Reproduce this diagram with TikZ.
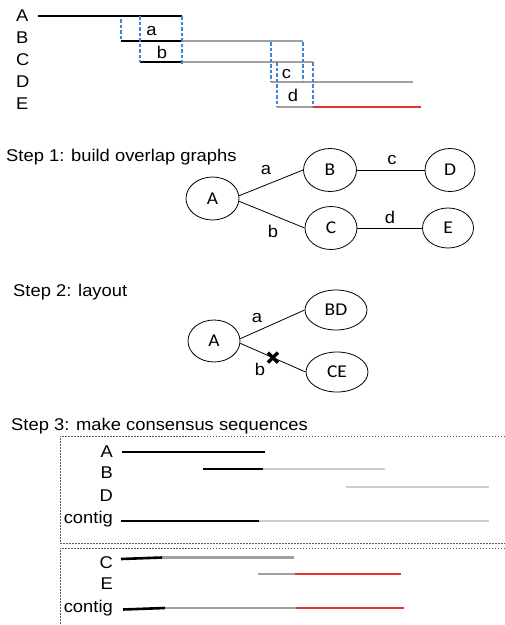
\documentclass[tikz,border=0pt]{standalone}
\usepackage{fontspec}
\setmainfont{Liberation Sans}[FakeStretch=1.08]
\newfontfamily\ellfont{Carlito}[FakeStretch=1.08]
\usetikzlibrary{shapes.geometric}
\definecolor{readgray}{HTML}{A0A0A0}
\definecolor{lightread}{HTML}{CECECE}
\definecolor{readred}{HTML}{E0352B}
\definecolor{ovblue}{HTML}{3F85D6}
\definecolor{boxline}{HTML}{4C5B7A}
\tikzset{
	lbl/.style={inner sep=0, font=\fontsize{17}{20}\selectfont},
	readk/.style={line width=2.6pt, black},
	readg/.style={line width=2.6pt, readgray},
	readl/.style={line width=2.6pt, lightread},
	readr/.style={line width=2.6pt, readred},
	ovl/.style={ovblue, line width=1.1pt, dash pattern=on 3.5pt off 2pt},
	readnode/.style={ellipse, draw, line width=0.8pt, inner sep=0, minimum width=53pt, minimum height=43pt, font=\ellfont\fontsize{18}{21}\selectfont},
	grp/.style={boxline, line width=0.9pt, dash pattern=on 1.5pt off 1.5pt},
}

\begin{document}
\begin{tikzpicture}[x=1pt, y=-1pt]
		%%%%% START %%%%%
		\useasboundingbox (0,0) rectangle (505,625);
		
		\node[lbl, anchor=base west] (rA) at (16,21) {A};
		\node[lbl, anchor=base west] (rB) at (16,43) {B};
		\node[lbl, anchor=base west] (rC) at (16,65) {C};
		\node[lbl, anchor=base west] (rD) at (16,87) {D};
		\node[lbl, anchor=base west] (rE) at (16,109) {E};
		
		\draw[readk] (38,16) -- (182,16);
		\draw[readk] (121,41) -- (182,41);
		\draw[readg] (182,41) -- (303,41);
		\draw[readk] (140,62) -- (182,62);
		\draw[readg] (182,62) -- (313,62);
		\draw[readg] (271,82) -- (413,82);
		\draw[readg] (277,107) -- (313,107);
		\draw[readr] (313,107) -- (421,107);
		
		\draw[ovl] (121,19) -- (121,41);
		\draw[ovl] (140,16) -- (140,62);
		\draw[ovl] (182,16) -- (182,64);
		\draw[ovl] (271,42) -- (271,82);
		\draw[ovl] (303,42) -- (303,82);
		\draw[ovl] (277,62) -- (277,107);
		\draw[ovl] (313,62) -- (313,107);
		
		\node[lbl, anchor=base] (oa) at (151.5,35) {a};
		\node[lbl, anchor=base] (ob) at (162,58) {b};
		\node[lbl, anchor=base] (oc) at (286.5,78) {c};
		\node[lbl, anchor=base] (od) at (293,101) {d};
		
		%%%%% STEP 1 %%%%%
		\node[lbl, anchor=base west] (step1) at (6,161) {Step 1: build overlap graphs};
		
		\node[readnode] (A1) at (212.5,198.5) {A};
		\node[readnode] (B1) at (330,170) {B};
		\node[readnode, minimum width=50pt] (D1) at (450,170) {D};
		\node[readnode, minimum width=52pt] (C1) at (331,228) {C};
		\node[readnode, minimum width=51pt, minimum height=40pt] (E1) at (448,228) {E};
		
		\draw[line width=0.8pt] (A1.6) -- (B1.west);
		\draw[line width=0.8pt] (A1.-6) -- (C1.west);
		\draw[line width=0.8pt] (B1.east) -- (D1.west);
		\draw[line width=0.8pt] (C1.east) -- (E1.west);
		
		\node[lbl, anchor=base] (ea1) at (266,174) {a};
		\node[lbl, anchor=base] (eb1) at (273,237) {b};
		\node[lbl, anchor=base] (ec1) at (392,164) {c};
		\node[lbl, anchor=base] (ed1) at (390,223) {d};
		
		%%%%% STEP 2 %%%%%
		\node[lbl, anchor=base west] (step2) at (13,296) {Step 2: layout};
		
		\node[readnode, minimum width=52pt, minimum height=42pt] (A2) at (214,341) {A};
		\node[readnode, minimum width=62pt, minimum height=40pt] (BD) at (336,310) {BD};
		\node[readnode, minimum width=62pt, minimum height=40pt] (CE) at (337,372) {CE};
		
		\draw[line width=0.8pt] (A2.5) -- (BD.west);
		\draw[line width=0.8pt] (A2.-5) -- coordinate[pos=0.5] (cut) (CE.west);
		\draw[line width=3.4pt] (cut) +(-5,-5) -- +(5,5) (cut) +(-5,5) -- +(5,-5);
		
		\node[lbl, anchor=base] (ea2) at (257,322) {a};
		\node[lbl, anchor=base] (eb2) at (260,375) {b};
		
		%%%%% STEP 3 %%%%%
		\node[lbl, anchor=base west] (step3) at (11,430) {Step 3: make consensus sequences};
		
		\draw[grp] (505,436) -- (60,436) -- (60,543) -- (505,543);
		\draw[grp] (505,548) -- (60,548) -- (60,625);
		
		\node[lbl, anchor=base east] (sA) at (113,457) {A};
		\node[lbl, anchor=base east] (sB) at (113,478) {B};
		\node[lbl, anchor=base east] (sD) at (113,501) {D};
		\node[lbl, anchor=base east] (sK1) at (113,523) {contig};
		
		\draw[readk] (122,452) -- (265,452);
		\draw[readk] (203,469) -- (263,469);
		\draw[readl] (263,469) -- (385,469);
		\draw[readl] (346,487) -- (489,487);
		\draw[readk] (121,521) -- (259,521);
		\draw[readl] (259,521) -- (489,521);
		
		\node[lbl, anchor=base east] (sC) at (113,568) {C};
		\node[lbl, anchor=base east] (sE) at (113,589) {E};
		\node[lbl, anchor=base east] (sK2) at (113,612) {contig};
		
		\draw[readk] (121,559) -- (162,557.5);
		\draw[readg] (162,557.5) -- (294,557.5);
		\draw[readg] (258,574) -- (295,574);
		\draw[readr] (295,574) -- (401,574);
		\draw[readk] (123,609.5) -- (165,608);
		\draw[readg] (165,608) -- (296,608);
		\draw[readr] (296,608) -- (404,608);
		
		%%%%% END %%%%%
\end{tikzpicture}
\end{document}
